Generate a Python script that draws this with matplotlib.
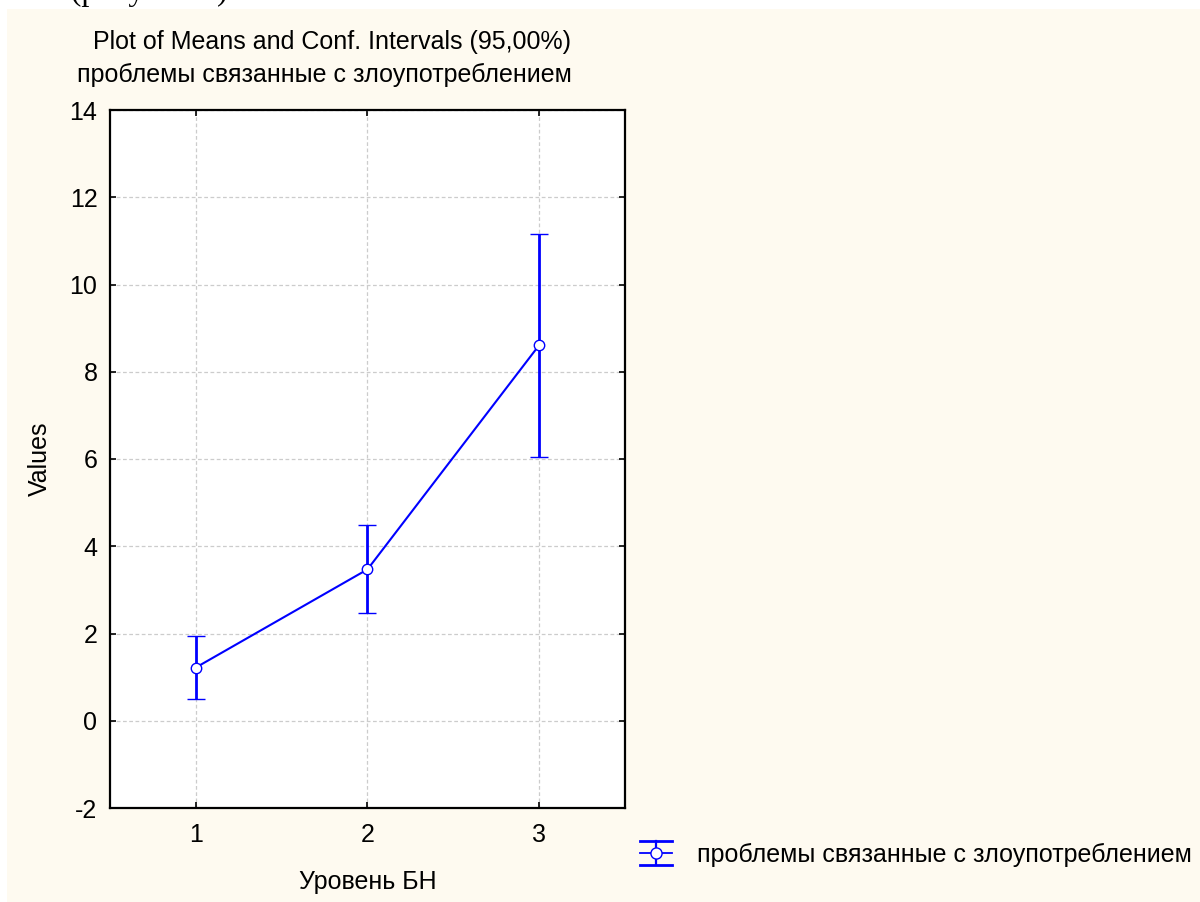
import matplotlib
matplotlib.use("Agg")
import matplotlib.pyplot as plt
from matplotlib.patches import Rectangle
from matplotlib.lines import Line2D
from matplotlib.legend_handler import HandlerBase

# data
levels = [1, 2, 3]
means = [1.22, 3.47, 8.61]
ci_low = [0.50, 2.47, 6.05]
ci_high = [1.94, 4.48, 11.16]
yticks = [-2, 0, 2, 4, 6, 8, 10, 12, 14]
series_name = "проблемы связанные с злоупотреблением"

plt.rcParams['font.family'] = ['Liberation Sans', 'DejaVu Sans']
blue = '#0000ff'
cream = '#fefaf0'
fs = 18


class ErrGlyph(HandlerBase):
    # caps across the whole glyph, line through the middle, circle marker
    def create_artists(self, legend, orig, xd, yd, w, h, fsz, trans):
        x0, x1 = -xd, -xd + w
        xm = (x0 + x1) / 2
        ym = -yd + h / 2
        yt, yb = ym + 12 * 0.72, ym - 12 * 0.72
        arts = [
            Line2D([x0, x1], [yt, yt], color=blue, lw=2),
            Line2D([x0, x1], [yb, yb], color=blue, lw=2),
            Line2D([x0, x1], [ym, ym], color=blue, lw=1.3),
            Line2D([xm, xm], [yb, yt], color=blue, lw=1.6),
            Line2D([xm], [ym], color=blue, marker='o', ms=8, mfc='white', mec=blue, mew=1),
        ]
        for a in arts:
            a.set_transform(trans)
        return arts


fig = plt.figure(figsize=(12, 9.02), dpi=100, facecolor='white')
fig.patches.append(Rectangle((7 / 1200, 0), 1, 1 - 9 / 902, transform=fig.transFigure,
                             facecolor=cream, edgecolor='none', zorder=-10))
# cut-off line of document text above the chart
fig.text(0.0, 1.008, "ание (рисунок 3).", family='Liberation Serif', fontsize=23,
         ha='left', va='center', zorder=-20)

ax = fig.add_axes([110 / 1200, 1 - 808 / 902, 515 / 1200, 698 / 902])
ax.set_facecolor('white')

yerr = [[m - lo for m, lo in zip(means, ci_low)], [hi - m for m, hi in zip(means, ci_high)]]
ax.errorbar(levels, means, yerr=yerr, color=blue, lw=1.5, elinewidth=2, capsize=6.5,
            capthick=2, marker='o', ms=7.5, mfc='white', mec=blue, mew=1, zorder=3)

ax.set_xlim(0.5, 3.5)
ax.set_ylim(-2, 14)
ax.set_xticks(levels)
ax.set_yticks(yticks)
ax.set_yticklabels([str(t) for t in yticks])
ax.tick_params(direction='in', length=4, width=1.2, top=True, right=True, labelsize=fs)
ax.tick_params(axis='x', pad=11)
ax.tick_params(axis='y', pad=9)
ax.grid(True, ls=(0, (3, 2)), color='#cccccc', lw=0.9)
for s in ax.spines.values():
    s.set_linewidth(1.6)

ax.set_xlabel("Уровень БН", fontsize=fs, labelpad=16)
ax.set_ylabel("Values", fontsize=fs, labelpad=13)

fig.text(332 / 1200, 1 - 42 / 902, "Plot of Means and Conf. Intervals (95,00%)",
         fontsize=fs, ha='center', va='center')
fig.text(324 / 1200, 1 - 75 / 902, series_name, fontsize=fs, ha='center', va='center')

fig.legend([object()], [series_name], handler_map={object: ErrGlyph()},
           loc='center left', bbox_to_anchor=(640 / 1200, 1 - 855 / 902),
           frameon=False, fontsize=fs, handlelength=1.28, handletextpad=1.0,
           borderpad=0, borderaxespad=0)

fig.savefig("out.png", dpi=100, facecolor=fig.get_facecolor())
